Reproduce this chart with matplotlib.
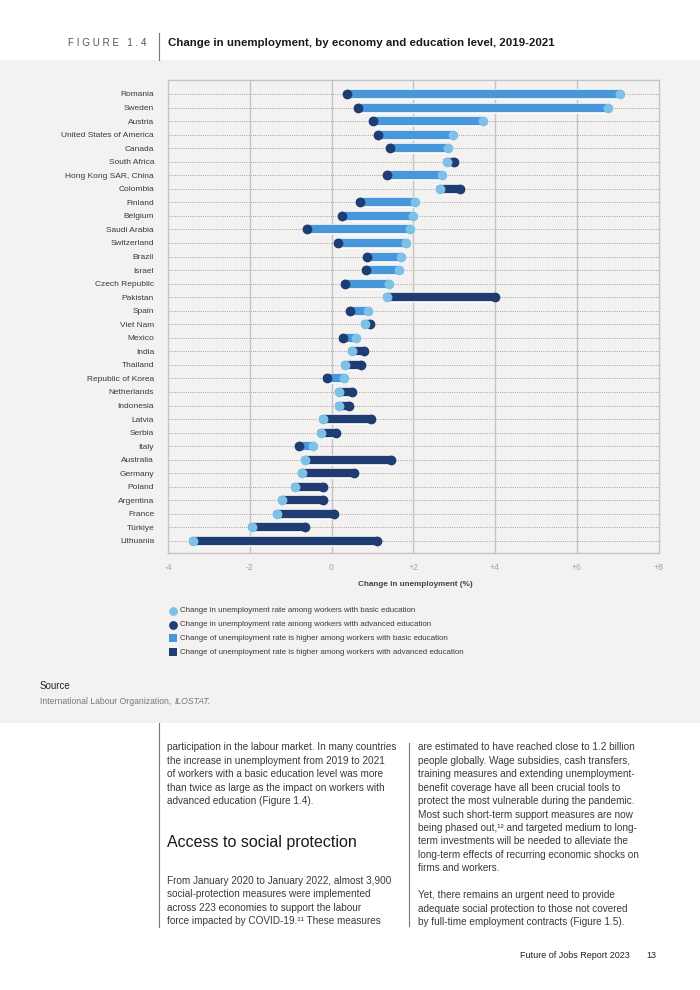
import matplotlib
matplotlib.use('Agg')
import matplotlib.pyplot as plt
import matplotlib.patheffects as pe
from matplotlib.patches import Rectangle

plt.rcParams['font.family'] = ['Liberation Sans', 'DejaVu Sans']

countries = ['Romania', 'Sweden', 'Austria', 'United States of America', 'Canada',
             'South Africa', 'Hong Kong SAR, China', 'Colombia', 'Finland', 'Belgium',
             'Saudi Arabia', 'Switzerland', 'Brazil', 'Israel', 'Czech Republic',
             'Pakistan', 'Spain', 'Viet Nam', 'Mexico', 'India', 'Thailand',
             'Republic of Korea', 'Netherlands', 'Indonesia', 'Latvia', 'Serbia',
             'Italy', 'Australia', 'Germany', 'Poland', 'Argentina', 'France',
             'Türkiye', 'Lithuania']

# change in unemployment rate (%), workers with basic education
basic = [7.06, 6.76, 3.71, 2.98, 2.85, 2.82, 2.70, 2.65, 2.05, 2.00,
         1.91, 1.83, 1.69, 1.66, 1.41, 1.35, 0.90, 0.82, 0.61, 0.51,
         0.34, 0.30, 0.18, 0.18, -0.20, -0.25, -0.45, -0.65, -0.73, -0.90,
         -1.20, -1.33, -1.94, -3.40]

# change in unemployment rate (%), workers with advanced education
advanced = [0.38, 0.66, 1.02, 1.13, 1.44, 3.00, 1.36, 3.15, 0.70, 0.26,
            -0.59, 0.17, 0.88, 0.85, 0.34, 4.00, 0.46, 0.93, 0.28, 0.79,
            0.73, -0.11, 0.50, 0.42, 0.97, 0.11, -0.79, 1.46, 0.56, -0.20,
            -0.20, 0.07, -0.65, 1.11]

xticks = [-4, -2, 0, 2, 4, 6, 8]
xtick_labels = ['-4', '-2', '0', '+2', '+4', '+6', '+8']

PANEL = '#F3F2F0'
LIGHT_DOT = '#7EC1E6'
MID_BAR = '#4897DA'
NAVY = '#1F3D72'
GRID = '#C4C4C4'
TEXT = '#3A3A3A'
BODY = 7.2

W, H = 700, 990
fig = plt.figure(figsize=(7, 9.9), dpi=100)
fig.patch.set_facecolor('white')

# page layer in pixel coordinates
bg = fig.add_axes([0, 0, 1, 1])
bg.set_xlim(0, W)
bg.set_ylim(H, 0)
bg.axis('off')
bg.add_patch(Rectangle((0, 60), W, 663, facecolor=PANEL, edgecolor='none'))

# header
bg.text(68, 43, 'F I G U R E   1 . 4', fontsize=7.1, color='#555555', va='center', ha='left')
bg.plot([159, 159], [33, 60], color='#777777', lw=0.8)
bg.text(168, 43, 'Change in unemployment, by economy and education level, 2019-2021',
        fontsize=8.25, fontweight='bold', color='#1a1a1a', va='center', ha='left')

# ============================================================
# CHART
# ============================================================
ax = fig.add_axes([168 / W, 1 - 553 / H, 490.5 / W, 473 / H])
ax.set_facecolor(PANEL)
n = len(countries)
ax.set_xlim(-4, 8)
ax.set_ylim(n - 1 + 0.886, -1.03)

for x in [-2, 0, 2, 4, 6]:
    ax.axvline(x, color=GRID, lw=1.0, zorder=1)
for i in range(n):
    ax.axhline(i, color='#8A8A8A', lw=0.6, ls=(0, (1, 1.6)), zorder=0.5)

for sp in ax.spines.values():
    sp.set_color(GRID)
    sp.set_linewidth(1.0)

halo = [pe.Stroke(linewidth=7.6, foreground='white'), pe.Normal()]
for i in range(n):
    b, a = basic[i], advanced[i]
    col = MID_BAR if b > a else NAVY
    ax.plot([b, a], [i, i], color=col, lw=6.0, solid_capstyle='round',
            path_effects=halo, zorder=3)

ax.scatter(advanced, range(n), s=50, color=NAVY, zorder=4, linewidths=0)
ax.scatter(basic, range(n), s=50, color=LIGHT_DOT, zorder=5, linewidths=0)

ax.set_yticks(range(n))
ax.set_yticklabels(countries, fontsize=6.05, color=TEXT)
ax.set_xticks(xticks)
ax.set_xticklabels(xtick_labels, fontsize=6.2, color='#A5A5A5')
ax.tick_params(axis='both', length=0)
ax.tick_params(axis='y', pad=10)
ax.tick_params(axis='x', pad=7.5)

bg.text(415, 584, 'Change in unemployment (%)', fontsize=5.9, fontweight='bold',
        color='#444444', ha='center', va='center')

# legend
legend_items = [
    ('o', LIGHT_DOT, 'Change in unemployment rate among workers with basic education'),
    ('o', NAVY, 'Change in unemployment rate among workers with advanced education'),
    ('s', MID_BAR, 'Change of unemployment rate is higher among workers with basic education'),
    ('s', NAVY, 'Change of unemployment rate is higher among workers with advanced education'),
]
for k, (mk, c, lab) in enumerate(legend_items):
    yy = 611 + k * 13.7
    bg.scatter([172.5], [yy], marker=mk, s=40 if mk == 'o' else 36, color=c, linewidths=0)
    bg.text(180, yy, lab, fontsize=5.7, color=TEXT, va='center', ha='left')

# source
bg.text(40, 686, 'Source', fontsize=7, color='#222222', va='center')
src = bg.text(40, 701, 'International Labour Organization, ', fontsize=6.2,
              color='#777777', va='center')
renderer = fig.canvas.get_renderer()
src_w = src.get_window_extent(renderer).width
bg.text(40 + src_w + 1, 701, 'ILOSTAT.', fontsize=6.2, color='#777777', va='center',
        style='italic')

# ============================================================
# BODY TEXT
# ============================================================
bg.plot([159, 159], [723, 927], color='#777777', lw=0.8)
bg.plot([409, 409], [743, 926], color='#777777', lw=0.8)

left1 = ['participation in the labour market. In many countries',
         'the increase in unemployment from 2019 to 2021',
         'of workers with a basic education level was more',
         'than twice as large as the impact on workers with',
         'advanced education (Figure 1.4).']
left2 = ['From January 2020 to January 2022, almost 3,900',
         'social-protection measures were implemented',
         'across 223 economies to support the labour',
         'force impacted by COVID-19.¹¹ These measures']
right1 = ['are estimated to have reached close to 1.2 billion',
          'people globally. Wage subsidies, cash transfers,',
          'training measures and extending unemployment-',
          'benefit coverage have all been crucial tools to',
          'protect the most vulnerable during the pandemic.',
          'Most such short-term support measures are now',
          'being phased out,¹² and targeted medium to long-',
          'term investments will be needed to alleviate the',
          'long-term effects of recurring economic shocks on',
          'firms and workers.']
right2 = ['Yet, there remains an urgent need to provide',
          'adequate social protection to those not covered',
          'by full-time employment contracts (Figure 1.5).']

LS = 13.45
for j, line in enumerate(left1):
    bg.text(167, 747.3 + j * LS, line, fontsize=BODY, color=TEXT, va='center')
bg.text(167, 842, 'Access to social protection', fontsize=11.5, color='#1a1a1a', va='center')
for j, line in enumerate(left2):
    bg.text(167, 881 + j * LS, line, fontsize=BODY, color=TEXT, va='center')
for j, line in enumerate(right1):
    bg.text(418, 747.3 + j * LS, line, fontsize=BODY, color=TEXT, va='center')
for j, line in enumerate(right2):
    bg.text(418, 895.3 + j * LS, line, fontsize=BODY, color=TEXT, va='center')

# footer
bg.text(630, 955, 'Future of Jobs Report 2023', fontsize=6.5, color='#222222', va='center', ha='right')
bg.text(656, 955, '13', fontsize=6.5, color='#222222', va='center', ha='right')

fig.savefig('out.png', dpi=100, facecolor='white')
